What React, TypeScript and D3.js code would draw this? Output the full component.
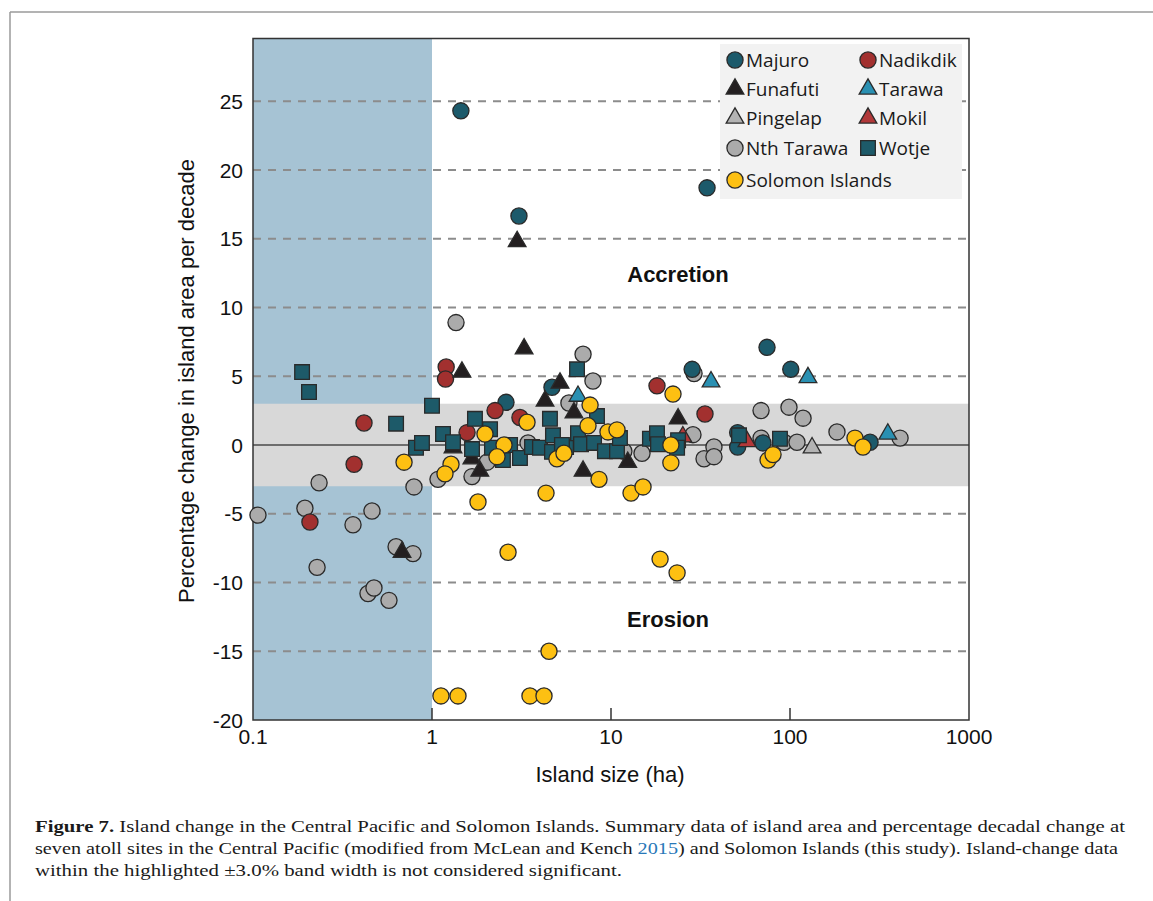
import React from "react";
import * as d3 from "d3";

type Pt = [number, number];

// [island size (ha), % change per decade]
const majuro: Pt[] = [
  [1.45, 24.3], [3.06, 16.65], [34.4, 18.7], [74.4, 7.1], [28.4, 5.5], [101, 5.5],
  [2.59, 3.1], [4.68, 4.2], [51, 0.9], [51, -0.15], [70.6, 0.15], [280, 0.2],
];
const nadikdik: Pt[] = [
  [1.2, 5.67], [1.19, 4.8], [0.417, 1.6], [0.367, -1.4], [0.208, -5.6], [1.57, 0.9],
  [2.25, 2.5], [3.1, 2.0], [18.07, 4.3], [33.5, 2.25],
];
const funafuti: Pt[] = [
  [2.99, 14.8], [3.27, 7.0], [1.47, 5.3], [5.19, 4.5], [4.28, 3.2], [6.21, 2.35],
  [6.98, -1.9], [23.7, 1.9], [12.4, -1.25], [1.31, -0.2], [1.67, -1.0], [1.85, -1.9],
  [0.68, -7.8],
];
const tarawa: Pt[] = [[6.54, 3.55], [36.2, 4.6], [126, 4.9], [352, 0.8]];
const pingelap: Pt[] = [[132.8, -0.2]];
const mokil: Pt[] = [[57.5, 0.25], [25.2, 0.6]];
const nthTarawa: Pt[] = [
  [0.1066, -5.1], [0.195, -4.6], [0.234, -2.75], [0.228, -8.9], [0.362, -5.8],
  [0.462, -4.8], [0.439, -10.8], [0.474, -10.4], [0.575, -11.3], [0.63, -7.4],
  [0.783, -7.9], [0.793, -3.05], [1.08, -2.5], [1.362, 8.9], [6.98, 6.6], [7.93, 4.65],
  [5.82, 3.05], [1.673, -2.3], [2.03, -1.25], [3.44, 0.15], [11.8, -0.45], [14.9, -0.6],
  [29.1, 5.2], [28.7, 0.75], [37.6, -0.15], [33.1, -1.0], [37.6, -0.85], [68.9, 2.5],
  [68.9, 0.5], [92.6, 0.2], [98.7, 2.75], [118.3, 1.95], [109.4, 0.2], [183, 0.95],
  [412, 0.5],
];
const wotje: Pt[] = [
  [0.188, 5.3], [0.2055, 3.85], [0.63, 1.55], [0.814, -0.2], [0.879, 0.15], [1.0, 2.85],
  [1.152, 0.8], [1.31, 0.2], [1.738, 1.9], [1.673, -0.3], [2.11, 1.15], [2.163, -0.2],
  [2.73, 0.0], [3.1, -0.95], [2.49, -1.1], [3.62, -0.15], [4.01, -0.2], [4.56, 1.9],
  [4.74, 0.7], [4.68, -0.5], [5.61, -0.15], [6.54, 0.85], [6.8, 0.05], [8.04, 0.15],
  [8.35, 2.1], [9.25, -0.45], [10.8, -0.45], [6.46, 5.5], [11.22, 0.5], [16.5, 0.45],
  [18.07, 0.85], [18.3, 0.05], [23.7, 0.35], [23.4, -0.2], [51.9, 0.7], [87.9, 0.45],
  [5.32, 0.0],
];
const solomon: Pt[] = [
  [0.698, -1.25], [1.277, -1.4], [1.182, -2.1], [1.807, -4.15], [1.977, 0.8],
  [2.525, 0.0], [2.307, -0.85], [3.395, 1.65], [4.99, -1.0], [5.46, -0.6], [4.335, -3.5],
  [7.64, 2.9], [7.44, 1.4], [9.62, 0.95], [10.8, 1.1], [8.57, -2.5], [12.94, -3.5],
  [15.1, -3.05], [22.2, 3.7], [21.6, 0.0], [21.6, -1.3], [75.4, -1.1], [80.4, -0.7],
  [230.7, 0.5], [255.8, -0.15], [2.66, -7.8], [18.8, -8.3], [23.4, -9.3], [4.505, -15.0],
  [1.122, -18.25], [1.397, -18.25], [3.526, -18.25], [4.224, -18.25],
];

const xTicks = [0.1, 1, 10, 100, 1000];
const xTickLabels = ["0.1", "1", "10", "100", "1000"];
const yTicks = [-20, -15, -10, -5, 0, 5, 10, 15, 20, 25];
const gridValues = [25, 20, 15, 10, 5, -5, -10, -15];
const bandLimit = 3;
const shadeMaxSize = 1;

type Shape = "circle" | "triangle" | "square";
interface Series { name: string; data: Pt[]; shape: Shape; fill: string; }

const seriesList: Series[] = [
  { name: "Nth Tarawa", data: nthTarawa, shape: "circle", fill: "#ababab" },
  { name: "Pingelap", data: pingelap, shape: "triangle", fill: "#b3b3b3" },
  { name: "Majuro", data: majuro, shape: "circle", fill: "#1c5a6b" },
  { name: "Nadikdik", data: nadikdik, shape: "circle", fill: "#a2302f" },
  { name: "Mokil", data: mokil, shape: "triangle", fill: "#b13839" },
  { name: "Tarawa", data: tarawa, shape: "triangle", fill: "#2a90b2" },
  { name: "Funafuti", data: funafuti, shape: "triangle", fill: "#231f20" },
  { name: "Wotje", data: wotje, shape: "square", fill: "#1d5a69" },
  { name: "Solomon Islands", data: solomon, shape: "circle", fill: "#fdc012" },
];

const legendOrder = [
  ["Majuro", "Nadikdik"],
  ["Funafuti", "Tarawa"],
  ["Pingelap", "Mokil"],
  ["Nth Tarawa", "Wotje"],
  ["Solomon Islands"],
];

const symbolPath = (shape: Shape, scale = 1) => {
  const type = shape === "circle" ? d3.symbolCircle : shape === "square" ? d3.symbolSquare : d3.symbolTriangle;
  const size = shape === "circle" ? 205 : shape === "square" ? 215 : 135;
  return d3.symbol().type(type).size(size * scale)()!;
};

export default function App() {
  const W = 1153, H = 901;
  const left = 253, right = 969, top = 38.5, bottom = 720;
  const x = d3.scaleLog().domain([0.1, 1000]).range([left, right]);
  const y = d3.scaleLinear().domain([-20, 29.56]).range([bottom, top]);
  const axisFont = "'Liberation Sans', Arial, sans-serif";
  const byName: Record<string, Series> = {};
  seriesList.forEach((s) => (byName[s.name] = s));

  return (
    <svg width={W} height={H} style={{ position: "absolute", left: 0, top: 0, background: "#fff" }}>
      {/* figure frame */}
      <line x1={10} y1={12} x2={W} y2={12} stroke="#9a9a9a" strokeWidth={1.5} />
      <line x1={10} y1={12} x2={10} y2={H} stroke="#9a9a9a" strokeWidth={1.5} />

      {/* shaded small-island region */}
      <rect x={x(0.1)} y={top} width={x(shadeMaxSize) - x(0.1)} height={bottom - top} fill="#a6c3d4" />
      {/* insignificant band */}
      <rect x={left} y={y(bandLimit)} width={right - left} height={y(-bandLimit) - y(bandLimit)} fill="#d8d8d8" />

      {gridValues.map((v) => (
        <line key={v} x1={left} x2={right} y1={y(v)} y2={y(v)} stroke="#8c8c8c" strokeWidth={2} strokeDasharray="8,7" />
      ))}
      <line x1={left} x2={right} y1={y(0)} y2={y(0)} stroke="#4a4a4a" strokeWidth={1.5} />

      {/* x inner ticks */}
      {xTicks.slice(1, -1).map((t) => (
        <line key={t} x1={x(t)} x2={x(t)} y1={bottom} y2={bottom - 12} stroke="#333" strokeWidth={1.5} />
      ))}

      {/* plot frame */}
      <rect x={left} y={top} width={right - left} height={bottom - top} fill="none" stroke="#333" strokeWidth={1.5} />

      {/* tick labels */}
      {yTicks.map((t) => (
        <text key={t} x={243} y={y(t)} dy="0.36em" textAnchor="end" fontFamily={axisFont} fontSize={21} fill="#111">
          {t}
        </text>
      ))}
      {xTicks.map((t, i) => (
        <text key={t} x={x(t)} y={744} textAnchor="middle" fontFamily={axisFont} fontSize={21} fill="#111">
          {xTickLabels[i]}
        </text>
      ))}

      <text x={610} y={782} textAnchor="middle" fontFamily={axisFont} fontSize={22} fill="#111">Island size (ha)</text>
      <text transform="translate(194,381) rotate(-90)" textAnchor="middle" fontFamily={axisFont} fontSize={22} fill="#111">
        Percentage change in island area per decade
      </text>

      <text x={678} y={282} textAnchor="middle" fontFamily={axisFont} fontWeight="bold" fontSize={22} fill="#111">Accretion</text>
      <text x={668} y={627} textAnchor="middle" fontFamily={axisFont} fontWeight="bold" fontSize={22} fill="#111">Erosion</text>

      {/* data */}
      {seriesList.map((s) => (
        <g key={s.name}>
          {s.data.map((d, i) => (
            <path key={i} d={symbolPath(s.shape)} transform={`translate(${x(d[0])},${y(d[1])})`}
              fill={s.fill} stroke="#2a2a2a" strokeWidth={1.3} />
          ))}
        </g>
      ))}

      {/* legend */}
      <rect x={720} y={44} width={242} height={155} fill="#f2f2f2" />
      {legendOrder.map((row, ri) =>
        row.map((name, ci) => {
          const s = byName[name];
          const cx = ci === 0 ? 735 : 868;
          const cy = [60, 89, 118, 148, 180][ri];
          return (
            <g key={name}>
              <path d={symbolPath(s.shape)} transform={`translate(${cx},${cy})`} fill={s.fill} stroke="#2a2a2a" strokeWidth={1.3} />
              <text x={cx + 11} y={cy} dy="0.36em" fontFamily="'Open Sans', sans-serif" fontSize={19} fill="#1a1a1a">{name}</text>
            </g>
          );
        })
      )}

      {/* caption */}
      <g fontFamily="'Liberation Serif', 'Times New Roman', serif" fontSize={17} fill="#1a1a1a">
        <text x={35} y={832} textLength={1090} lengthAdjust="spacingAndGlyphs">
          <tspan fontWeight="bold">Figure 7.</tspan> Island change in the Central Pacific and Solomon Islands. Summary data of island area and percentage decadal change at
        </text>
        <text x={35} y={854} textLength={1083} lengthAdjust="spacingAndGlyphs">
          seven atoll sites in the Central Pacific (modified from McLean and Kench <tspan fill="#2878b8">2015</tspan>) and Solomon Islands (this study). Island-change data
        </text>
        <text x={35} y={876} textLength={587} lengthAdjust="spacingAndGlyphs">
          within the highlighted ±3.0% band width is not considered significant.
        </text>
      </g>
    </svg>
  );
}
